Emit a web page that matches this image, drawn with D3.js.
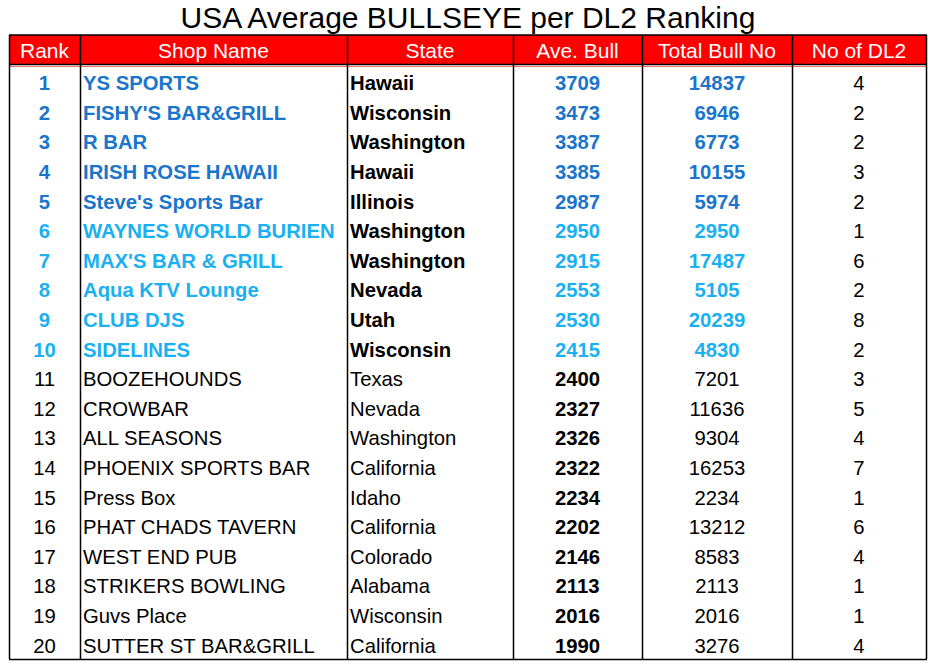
<!DOCTYPE HTML>
<html>
  <head>
    <title>USA Average BULLSEYE per DL2 Ranking</title>
    <style>
      body { margin: 0; background: #fff; }
      text { font-family: 'Liberation Sans', Arial, sans-serif; }
    </style>
  </head>
  <body>
    <script src="https://cdn.jsdelivr.net/npm/d3@7"></script>
    <script>
      var headers = ['Rank', 'Shop Name', 'State', 'Ave. Bull', 'Total Bull No', 'No of DL2'];
      var ranks = [1, 2, 3, 4, 5, 6, 7, 8, 9, 10, 11, 12, 13, 14, 15, 16, 17, 18, 19, 20];
      var shops = ['YS SPORTS', "FISHY'S BAR&GRILL", 'R BAR', 'IRISH ROSE HAWAII', "Steve's Sports Bar",
        'WAYNES WORLD BURIEN', "MAX'S BAR & GRILL", 'Aqua KTV Lounge', 'CLUB DJS', 'SIDELINES',
        'BOOZEHOUNDS', 'CROWBAR', 'ALL SEASONS', 'PHOENIX SPORTS BAR', 'Press Box',
        'PHAT CHADS TAVERN', 'WEST END PUB', 'STRIKERS BOWLING', 'Guvs Place', 'SUTTER ST BAR&GRILL'];
      var states = ['Hawaii', 'Wisconsin', 'Washington', 'Hawaii', 'Illinois', 'Washington', 'Washington',
        'Nevada', 'Utah', 'Wisconsin', 'Texas', 'Nevada', 'Washington', 'California', 'Idaho',
        'California', 'Colorado', 'Alabama', 'Wisconsin', 'California'];
      var aveBull = [3709, 3473, 3387, 3385, 2987, 2950, 2915, 2553, 2530, 2415,
        2400, 2327, 2326, 2322, 2234, 2202, 2146, 2113, 2016, 1990];
      var totalBull = [14837, 6946, 6773, 10155, 5974, 2950, 17487, 5105, 20239, 4830,
        7201, 11636, 9304, 16253, 2234, 13212, 8583, 2113, 2016, 3276];
      var numDL2 = [4, 2, 2, 3, 2, 1, 6, 2, 8, 2, 3, 5, 4, 7, 1, 6, 4, 1, 1, 4];

      var width = 938,
        height = 668;

      var colEdges = [9, 80, 347, 513, 642, 792, 926];
      var headTop = 35, headBottom = 64, bodyTop = 67, bodyBottom = 659;

      var darkBlue = '#1a75cc', lightBlue = '#1ab0f2';

      var svg = d3.select('body').append('svg')
          .attr('width', width)
          .attr('height', height);

      var y = d3.scaleBand()
          .domain(ranks)
          .range([bodyTop, bodyBottom]);

      // title
      svg.append('text')
          .attr('x', 468)
          .attr('y', 28)
          .attr('text-anchor', 'middle')
          .style('font-size', '30px')
          .text('USA Average BULLSEYE per DL2 Ranking');

      // header
      svg.append('rect')
          .attr('x', colEdges[0]).attr('y', headTop)
          .attr('width', colEdges[6] - colEdges[0]).attr('height', headBottom - headTop)
          .attr('fill', '#ff0000');

      svg.selectAll('text.head')
          .data(headers)
        .enter().append('text')
          .attr('class', 'head')
          .attr('x', function(d, i) { return (colEdges[i] + colEdges[i + 1]) / 2; })
          .attr('y', (headTop + headBottom) / 2 + 1)
          .attr('dy', '.36em')
          .attr('text-anchor', 'middle')
          .attr('fill', '#fff')
          .style('font-size', '21px')
          .text(function(d) { return d; });

      svg.append('line')
          .attr('x1', colEdges[0]).attr('x2', colEdges[6])
          .attr('y1', 64.5).attr('y2', 64.5)
          .attr('stroke', '#000').attr('stroke-width', 1.5);
      svg.append('line')
          .attr('x1', colEdges[0]).attr('x2', colEdges[6])
          .attr('y1', 66.5).attr('y2', 66.5)
          .attr('stroke', '#f07070').attr('stroke-width', 1);

      // column borders
      svg.selectAll('line.col')
          .data(colEdges)
        .enter().append('line')
          .attr('class', 'col')
          .attr('x1', function(d) { return d + 0.5; })
          .attr('x2', function(d) { return d + 0.5; })
          .attr('y1', headTop)
          .attr('y2', bodyBottom)
          .attr('stroke', '#000')
          .attr('stroke-width', 1.5);

      svg.append('line')
          .attr('x1', colEdges[0]).attr('x2', colEdges[6] + 1)
          .attr('y1', bodyBottom + 0.5).attr('y2', bodyBottom + 0.5)
          .attr('stroke', '#000').attr('stroke-width', 1.5);
      svg.append('line')
          .attr('x1', colEdges[0]).attr('x2', colEdges[6] + 1)
          .attr('y1', headTop).attr('y2', headTop)
          .attr('stroke', '#000').attr('stroke-width', 1.5);

      function rowColor(i) {
        return i < 5 ? darkBlue : (i < 10 ? lightBlue : '#000');
      }

      var rows = svg.selectAll('g.row')
          .data(ranks)
        .enter().append('g')
          .attr('class', 'row')
          .attr('transform', function(d) { return 'translate(0,' + (y(d) + y.bandwidth() / 2 + 1) + ')'; });

      var cells = [
        { get: function(i) { return ranks[i]; }, x: (colEdges[0] + colEdges[1]) / 2, anchor: 'middle',
          color: rowColor, bold: function(i) { return i < 10; } },
        { get: function(i) { return shops[i]; }, x: colEdges[1] + 3, anchor: 'start',
          color: rowColor, bold: function(i) { return i < 10; } },
        { get: function(i) { return states[i]; }, x: colEdges[2] + 3, anchor: 'start',
          color: function() { return '#000'; }, bold: function(i) { return i < 10; } },
        { get: function(i) { return aveBull[i]; }, x: (colEdges[3] + colEdges[4]) / 2, anchor: 'middle',
          color: rowColor, bold: function() { return true; } },
        { get: function(i) { return totalBull[i]; }, x: (colEdges[4] + colEdges[5]) / 2, anchor: 'middle',
          color: rowColor, bold: function(i) { return i < 10; } },
        { get: function(i) { return numDL2[i]; }, x: (colEdges[5] + colEdges[6]) / 2, anchor: 'middle',
          color: function() { return '#000'; }, bold: function() { return false; } }
      ];

      rows.each(function(d, i) {
        var g = d3.select(this);
        cells.forEach(function(c) {
          g.append('text')
              .attr('x', c.x)
              .attr('y', 0)
              .attr('dy', '.36em')
              .attr('text-anchor', c.anchor)
              .attr('fill', c.color(i))
              .style('font-size', '20.3px')
              .style('font-weight', c.bold(i) ? 'bold' : 'normal')
              .text(c.get(i));
        });
      });
    </script>
  </body>
</html>
